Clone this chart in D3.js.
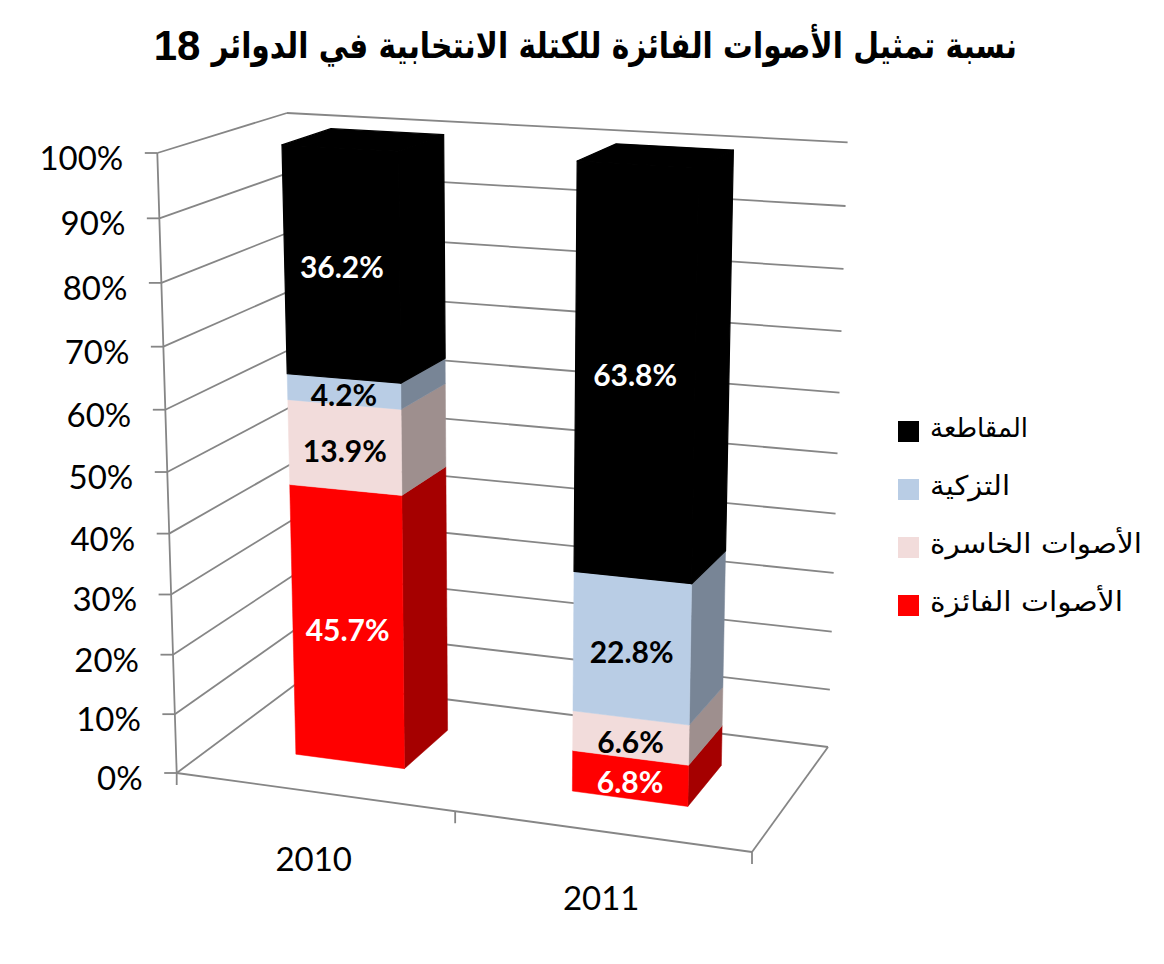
<!DOCTYPE html>
<html lang="ar">
<head>
<meta charset="utf-8">
<script src="https://cdnjs.cloudflare.com/ajax/libs/d3/7.8.5/d3.min.js"></script>
<style>
html,body{margin:0;padding:0;background:#fff;overflow:hidden}
svg{display:block}
</style>
</head>
<body>
<svg id="chart" width="1164" height="964"></svg>
<script>
const titleText = "نسبة تمثيل الأصوات الفائزة للكتلة الانتخابية في الدوائر";
const titleNumber = "18";
const categories = ["2010", "2011"];
const seriesNames = ["الأصوات الفائزة", "الأصوات الخاسرة", "التزكية", "المقاطعة"];
const winningVotes = [45.7, 6.8];
const losingVotes = [13.9, 6.6];
const acclamation = [4.2, 22.8];
const boycott = [36.2, 63.8];
const valueTicks = [0, 10, 20, 30, 40, 50, 60, 70, 80, 90, 100];
const frontColors = ["#FF0000", "#F2DCDB", "#B9CDE5", "#000000"];
const sideColors = ["#A50000", "#9E8F8E", "#788596", "#000000"];
const labelColors = ["#fff", "#000", "#000", "#fff"];
const legendTextWidths = [193, 212, 80, 98];

const seriesValues = [winningVotes, losingVotes, acclamation, boycott];
const svg = d3.select("#chart");

// Projection of the chart box: floor and ceiling quads, in the order
// front-left, front-right, back-right, back-left.
const floorQuad = [[176.7, 773], [752, 852], [828, 747], [300, 681]];
const ceilQuad = [[157.3, 153], [769, 187], [847.6, 142.3], [287, 113]];
const perspectiveK = 1.06;
const barLean = -3;

function homography(q) {
  const [[x0, y0], [x1, y1], [x2, y2], [x3, y3]] = q;
  const dx1 = x1 - x2, dx2 = x3 - x2, sx = x0 - x1 + x2 - x3;
  const dy1 = y1 - y2, dy2 = y3 - y2, sy = y0 - y1 + y2 - y3;
  const den = dx1 * dy2 - dx2 * dy1;
  const g = (sx * dy2 - dx2 * sy) / den, h = (dx1 * sy - sx * dy1) / den;
  const a = x1 - x0 + g * x1, b = x3 - x0 + h * x3;
  const d = y1 - y0 + g * y1, e = y3 - y0 + h * y3;
  return (u, w) => {
    const n = g * u + h * w + 1;
    return [(a * u + b * w + x0) / n, (d * u + e * w + y0) / n];
  };
}
const floorH = homography(floorQuad), ceilH = homography(ceilQuad);

const xBand = d3.scaleBand().domain(categories).range([0, 1]).paddingInner(0.6).paddingOuter(0.3);
const xCentre = d3.scaleBand().domain(categories).range([0, 1]);
const depthBand = d3.scaleBand().domain(["s"]).range([0, 1]).paddingInner(0.6).paddingOuter(0.3);
const yScale = d3.scaleLinear().domain([0, 100]).range([0, 1]);

function project(u, value, w, lean = 0) {
  const v = yScale(value);
  const t = v / (v + perspectiveK * (1 - v));
  const f = floorH(u, w), c = ceilH(u, w);
  return [f[0] + t * (c[0] + lean - f[0]), f[1] + t * (c[1] - f[1])];
}

const GRID = "#868686", GW = 1.8;
const line = (g, a, b) => g.append("line").attr("x1", a[0]).attr("y1", a[1]).attr("x2", b[0]).attr("y2", b[1])
  .attr("stroke", GRID).attr("stroke-width", GW);
const poly = (g, pts, fill, sw = 0.5) => g.append("polygon").attr("points", pts.map(p => p.join(",")).join(" "))
  .attr("fill", fill).attr("stroke", fill).attr("stroke-width", sw).attr("stroke-linejoin", "round");

// Walls and floor
const walls = svg.append("g");
valueTicks.forEach(tv => {
  const a = project(0, tv, 0), b = project(0, tv, 1), c = project(1, tv, 1);
  line(walls, a, b);
  line(walls, b, c);
  line(walls, [a[0] - 12.5, a[1]], a);
  svg.append("text").attr("x", a[0] - 34).attr("y", a[1] + 4)
    .attr("text-anchor", "end").attr("dominant-baseline", "central")
    .attr("font-family", "Lato").attr("font-size", 33).attr("fill", "#000")
    .text(tv + "%");
});
line(walls, project(0, 0, 0), project(0, 100, 0));
line(walls, project(0, 0, 0), project(1, 0, 0));
line(walls, project(1, 0, 0), project(1, 0, 1));
[0, 0.5, 1].forEach(u => {
  const p = project(u, 0, 0);
  line(walls, p, [p[0], p[1] + 12]);
});

// Stacked 3D bars
const stack = d3.stack().keys(d3.range(seriesValues.length)).value((d, k) => seriesValues[k][d]);
const layers = stack(d3.range(categories.length));
const w0 = depthBand("s"), w1 = w0 + depthBand.bandwidth();
const barsG = svg.append("g"), labelsG = svg.append("g");

categories.forEach((cat, ci) => {
  const u0 = xBand(cat), u1 = u0 + xBand.bandwidth();
  const P = (u, val, w) => project(u, val, w, barLean);
  layers.forEach((layer, si) => {
    const [lo, hi] = layer[ci];
    const top = si === layers.length - 1;
    const sw = top ? 1.2 : 0.5;
    poly(barsG, [P(u1, lo, w0), P(u1, lo, w1), P(u1, hi, w1), P(u1, hi, w0)], sideColors[si], sw);
    poly(barsG, [P(u0, lo, w0), P(u1, lo, w0), P(u1, hi, w0), P(u0, hi, w0)], frontColors[si], sw);
    if (top) {
      poly(barsG, [P(u0, hi, w0), P(u1, hi, w0), P(u1, hi, w1), P(u0, hi, w1)], frontColors[si], sw);
    }
    const a = P((u0 + u1) / 2, lo, w0), b = P((u0 + u1) / 2, hi, w0);
    labelsG.append("text")
      .attr("x", (a[0] + b[0]) / 2).attr("y", (a[1] + b[1]) / 2 + 3)
      .attr("text-anchor", "middle").attr("dominant-baseline", "central")
      .attr("font-family", "Lato").attr("font-weight", 700).attr("font-size", 30)
      .attr("fill", labelColors[si])
      .text(d3.format(".1f")(seriesValues[si][ci]) + "%");
  });
  const p = project(xCentre(cat) + xCentre.bandwidth() / 2, 0, 0);
  svg.append("text").attr("x", p[0]).attr("y", p[1] + 66)
    .attr("text-anchor", "middle").attr("dominant-baseline", "central")
    .attr("font-family", "Lato").attr("font-size", 33).attr("fill", "#000").text(cat);
});

// Fit Arabic text to a target ink width, anchored at its right end.
function fitted(sel, rightX, width) {
  const len = sel.node().getComputedTextLength();
  sel.attr("x", 0).attr("transform", `translate(${rightX},${+sel.attr("y")}) scale(${width / len},1)`).attr("y", 0);
}

// Title
const title = svg.append("text").attr("y", 45)
  .attr("text-anchor", "start").attr("direction", "rtl").attr("dominant-baseline", "central")
  .attr("font-family", "'DejaVu Sans',sans-serif").attr("font-weight", 700).attr("font-size", 36)
  .attr("fill", "#000").text(titleText);
fitted(title, 1017, 806);
svg.append("text").attr("x", 177).attr("y", 45)
  .attr("text-anchor", "middle").attr("dominant-baseline", "central")
  .attr("font-family", "'Liberation Sans',sans-serif").attr("font-weight", 700).attr("font-size", 42)
  .attr("fill", "#000").text(titleNumber);

// Legend (top to bottom is the reverse of the stack order)
const legendY = d3.scalePoint().domain(d3.range(seriesNames.length).reverse()).range([431.5, 605.5]);
seriesNames.forEach((name, si) => {
  const cy = legendY(si);
  svg.append("rect").attr("x", 898).attr("y", cy - 10.5).attr("width", 21).attr("height", 21).attr("fill", frontColors[si]);
  const t = svg.append("text").attr("y", cy - 4)
    .attr("text-anchor", "start").attr("direction", "rtl").attr("dominant-baseline", "central")
    .attr("font-family", "'DejaVu Sans',sans-serif").attr("font-size", 27)
    .attr("fill", "#000").text(name);
  fitted(t, 930 + legendTextWidths[si], legendTextWidths[si]);
});
</script>
</body>
</html>
